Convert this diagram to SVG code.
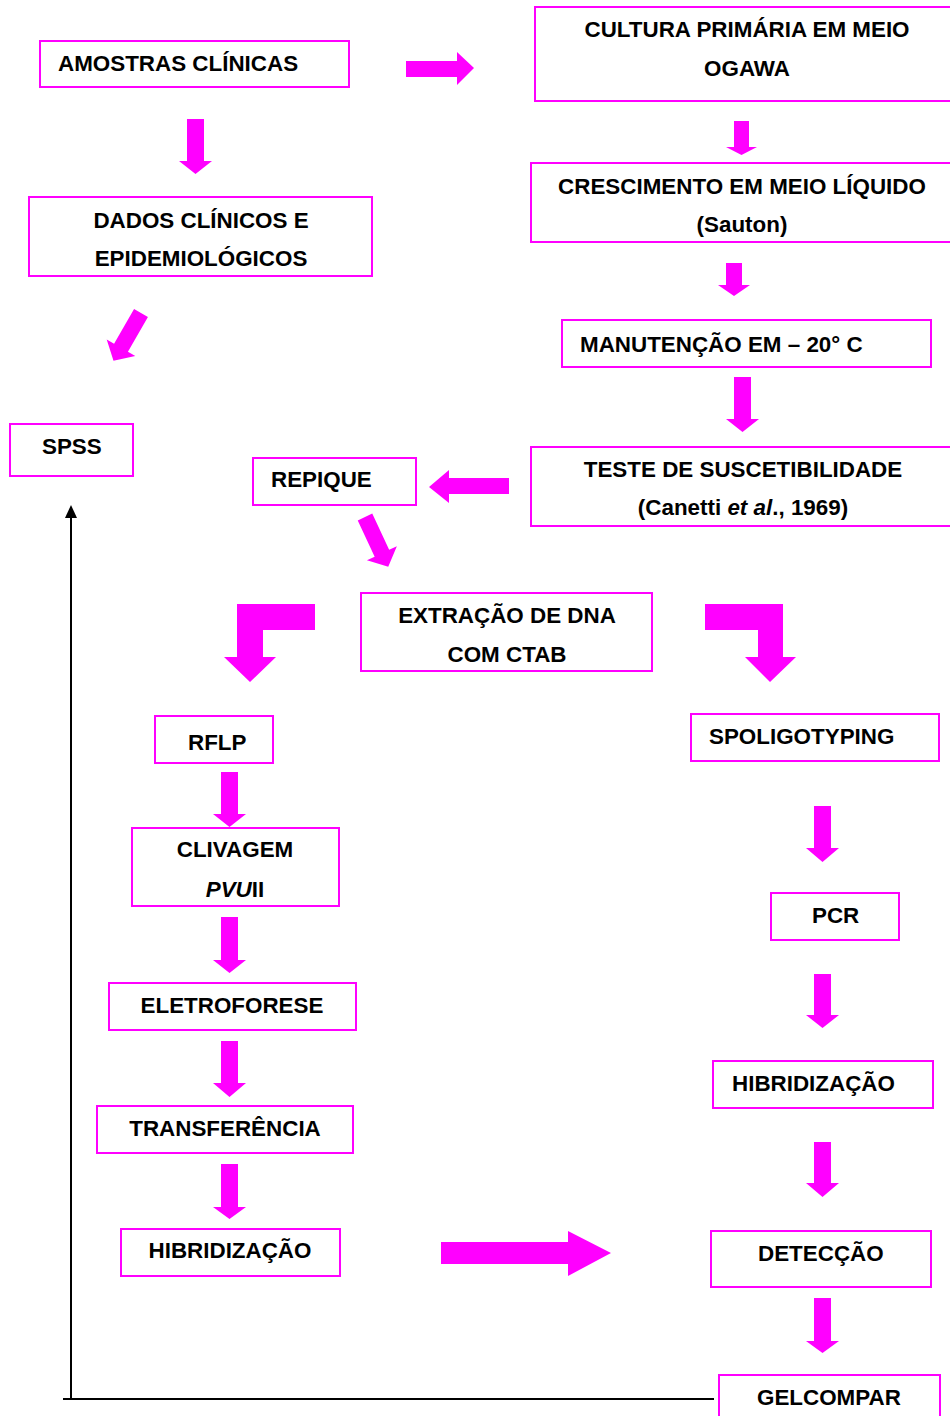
<svg xmlns="http://www.w3.org/2000/svg" width="950" height="1416" viewBox="0 0 950 1416">
<style>
.box{fill:#fff;stroke:#FF00FF;stroke-width:2}
.arr{fill:#FF00FF}
.t{font-family:"Liberation Sans",Arial,sans-serif;font-weight:bold;font-size:22.4px;fill:#000}
.c{text-anchor:middle}
.comic{font-family:"Comic Sans MS","Liberation Sans",sans-serif}
.ln{stroke:#000;stroke-width:2;fill:none}
</style>
<rect width="950" height="1416" fill="#fff"/>
<g id="connectors">
  <polygon class="arr" points="406,61 457,61 457,52 474,68 457,85 457,77 406,77"/>
  <polygon class="arr" points="187,119 204,119 204,161 212,161 195.5,174 179,161 187,161"/>
  <polygon class="arr" transform="translate(141,313) rotate(30)" points="-8,0 8,0 8,40 16.5,40 0,55 -16.5,40 -8,40"/>
  <polygon class="arr" points="734,121 749,121 749,147 757,147 741.5,155 726,147 734,147"/>
  <polygon class="arr" points="726,263 742,263 742,285 750,285 734,296 718,285 726,285"/>
  <polygon class="arr" points="734,377 751,377 751,419 759,419 742.5,432 726,419 734,419"/>
  <polygon class="arr" points="509,478 449,478 449,470 429,487 449,503 449,494 509,494"/>
  <polygon class="arr" transform="translate(365,517) rotate(-25)" points="-8,0 8,0 8,40 16.5,40 0,55 -16.5,40 -8,40"/>
  <polygon class="arr" points="315,604 237,604 237,657 224,657 250,682 276,657 263,657 263,630 315,630"/>
  <polygon class="arr" points="705,604 783,604 783,657 796,657 770,682 745,657 758,657 758,630 705,630"/>
  <polygon class="arr" points="221,772 238,772 238,814 246,814 229.5,827 213,814 221,814"/>
  <polygon class="arr" points="221,917 238,917 238,960 246,960 229.5,973 213,960 221,960"/>
  <polygon class="arr" points="221,1041 238,1041 238,1083 246,1083 229.5,1097 213,1083 221,1083"/>
  <polygon class="arr" points="221,1164 238,1164 238,1207 246,1207 229.5,1219 213,1207 221,1207"/>
  <polygon class="arr" points="814,806 831,806 831,848 839,848 822.5,862 806,848 814,848"/>
  <polygon class="arr" points="814,974 831,974 831,1015 839,1015 822.5,1028 806,1015 814,1015"/>
  <polygon class="arr" points="814,1142 831,1142 831,1183 839,1183 822.5,1197 806,1183 814,1183"/>
  <polygon class="arr" points="814,1298 831,1298 831,1341 839,1341 822.5,1353 806,1341 814,1341"/>
  <polygon class="arr" points="441,1242 568,1242 568,1231 611,1253 568,1276 568,1264 441,1264"/>
  <polyline class="ln" points="714,1399 63,1399"/>
  <line class="ln" x1="71" y1="1400" x2="71" y2="516"/>
  <polygon fill="#000" points="71,505 65,518 77,518"/>
</g>
<g id="amostras"><rect class="box" x="40" y="41" width="309" height="46"/><text class="t" x="58" y="71">AMOSTRAS CLÍNICAS</text></g>
<g id="cultura"><rect class="box" x="535" y="7" width="430" height="94"/><text class="t c" x="747" y="37">CULTURA PRIMÁRIA EM MEIO</text><text class="t c" x="747" y="76">OGAWA</text></g>
<g id="dados"><rect class="box" x="29" y="197" width="343" height="79"/><text class="t c" x="201" y="228">DADOS CLÍNICOS E</text><text class="t c" x="201" y="266">EPIDEMIOLÓGICOS</text></g>
<g id="crescimento"><rect class="box" x="531" y="163" width="430" height="79"/><text class="t c" x="742" y="194">CRESCIMENTO EM MEIO LÍQUIDO</text><text class="t c" x="742" y="232">(Sauton)</text></g>
<g id="manutencao"><rect class="box" x="562" y="320" width="369" height="47"/><text class="t" x="580" y="352">MANUTENÇÃO EM – 20° C</text></g>
<g id="spss"><rect class="box" x="10" y="424" width="123" height="52"/><text class="t" x="42" y="454">SPSS</text></g>
<g id="repique"><rect class="box" x="253" y="458" width="163" height="47"/><text class="t" x="271" y="487">REPIQUE</text></g>
<g id="teste"><rect class="box" x="531" y="447" width="430" height="79"/><text class="t c" x="743" y="477">TESTE DE SUSCETIBILIDADE</text><text class="t c" x="743" y="515">(Canetti <tspan font-style="italic">et al</tspan>., 1969)</text></g>
<g id="extracao"><rect class="box" x="361" y="593" width="291" height="78"/><text class="t c" x="507" y="623">EXTRAÇÃO DE DNA</text><text class="t c" x="507" y="662">COM CTAB</text></g>
<g id="rflp"><rect class="box" x="155" y="716" width="118" height="47"/><text class="t comic" x="188" y="750">RFLP</text></g>
<g id="spoligotyping"><rect class="box" x="691" y="714" width="248" height="47"/><text class="t" x="709" y="744">SPOLIGOTYPING</text></g>
<g id="clivagem"><rect class="box" x="132" y="828" width="207" height="78"/><text class="t c" x="235" y="857">CLIVAGEM</text><text class="t c" x="235" y="897"><tspan font-style="italic">PVU</tspan>II</text></g>
<g id="pcr"><rect class="box" x="771" y="893" width="128" height="47"/><text class="t" x="812" y="923">PCR</text></g>
<g id="eletroforese"><rect class="box" x="109" y="983" width="247" height="47"/><text class="t c" x="232" y="1013">ELETROFORESE</text></g>
<g id="hibridizacao2"><rect class="box" x="713" y="1061" width="220" height="47"/><text class="t" x="732" y="1091">HIBRIDIZAÇÃO</text></g>
<g id="transferencia"><rect class="box" x="97" y="1106" width="256" height="47"/><text class="t c" x="225" y="1136">TRANSFERÊNCIA</text></g>
<g id="hibridizacao1"><rect class="box" x="121" y="1229" width="219" height="47"/><text class="t c" x="230" y="1258">HIBRIDIZAÇÃO</text></g>
<g id="deteccao"><rect class="box" x="711" y="1231" width="220" height="56"/><text class="t" x="758" y="1261">DETECÇÃO</text></g>
<g id="gelcompar"><rect class="box" x="719" y="1375" width="221" height="60"/><text class="t" x="757" y="1405">GELCOMPAR</text></g>
</svg>
